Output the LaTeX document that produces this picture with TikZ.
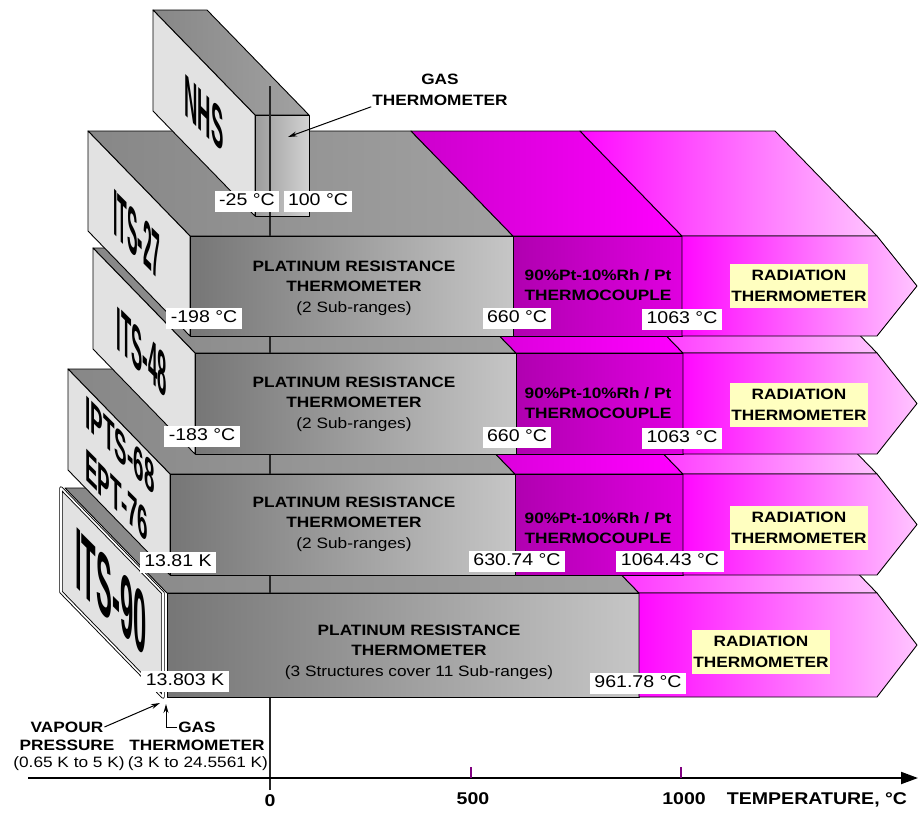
\documentclass[tikz,border=0pt]{standalone}
\usepackage{fontspec}
\setmainfont{Liberation Sans}[FakeStretch=1.15]
\newfontfamily\facefont{Liberation Sans}
\usetikzlibrary{arrows.meta}
\definecolor{prtDark}{HTML}{767676}
\definecolor{prtLight}{HTML}{C6C6C6}
\definecolor{prtTopDark}{HTML}{878787}
\definecolor{prtTopLight}{HTML}{A2A2A2}
\definecolor{tcDark}{HTML}{B000B0}
\definecolor{tcLight}{HTML}{E000E0}
\definecolor{tcTop}{HTML}{CC00CC}
\definecolor{radDark}{HTML}{FF08FF}
\definecolor{radLight}{HTML}{FFC4FF}
\definecolor{nhsDark}{HTML}{9C9C9C}
\definecolor{nhsLight}{HTML}{D2D2D2}
\definecolor{sideGray}{HTML}{E2E2E2}
\definecolor{noteYellow}{HTML}{FFFFC0}
\definecolor{tickPurple}{HTML}{800080}
% depth of a block (back and up)
\def\dx{102}
\def\dy{105}
% right end and tip of the arrows
\def\xr{877}
\def\xt{917}
% top faces: #1 front y, #2 left x, #3 PRT/TC x, #4 TC/radiation x
\def\drawTops#1#2#3#4{
\draw[prttop] (#2,#1) -- (#3,#1) -- ++(-\dx,-\dy) -- (#2-\dx,#1-\dy) -- cycle;
\draw[tctop] (#3,#1) -- (#4,#1) -- ++(-\dx,-\dy) -- (#3-\dx,#1-\dy) -- cycle;
\draw[radtop] (#4,#1) -- (\xr,#1) -- ++(-\dx,-\dy) -- (#4-\dx,#1-\dy) -- cycle;
}
% face that carries the scale name: #1 top y, #2 bottom y, #3 x
\def\drawSide#1#2#3{
\draw[sideface] (#3,#1) -- ++(-\dx,-\dy) -- ++(0,#2-#1) -- (#3,#2) -- cycle;
}
% front faces: #1 top y, #2 bottom y, #3 left x, #4 PRT/TC x, #5 TC/radiation x
\def\drawFronts#1#2#3#4#5{
\draw[prtfront] (#3,#1) rectangle (#4,#2);
\draw[tcfront] (#4,#1) rectangle (#5,#2);
\draw[radfront] (#5,#1) -- (\xr,#1) -- (\xt,{(#1+#2)/2}) -- (\xr,#2) -- (#5,#2) -- cycle;
}
\tikzset{
  outline/.style={draw=black, line width=0.9pt, line join=round},
  prttop/.style={outline, left color=prtTopDark, right color=prtTopLight},
  tctop/.style={outline, left color=tcTop, right color=magenta},
  radtop/.style={outline, left color=radDark, right color=radLight},
  prtfront/.style={outline, left color=prtDark, right color=prtLight},
  tcfront/.style={outline, left color=tcDark, right color=tcLight},
  radfront/.style={outline, left color=radDark, right color=radLight},
  nhsfront/.style={outline, left color=nhsDark, right color=nhsLight},
  sideface/.style={outline, fill=sideGray},
  sidetext/.style 2 args={inner sep=0pt, font=\facefont\fontsize{#1}{#1}\selectfont\bfseries, cm={#2,-#2,0,1,(0,0)}},
  zeroline/.style={draw=black!85, line width=1.4pt},
  head/.style={align=center, inner sep=1pt, font=\fontsize{15}{20.5}\selectfont},
  boldhead/.style={head, font=\fontsize{15}{20.5}\selectfont\bfseries},
  radbox/.style={boldhead, fill=noteYellow, inner xsep=1.5pt, inner ysep=6.5pt},
  val/.style={fill=white, inner xsep=4.5pt, inner ysep=2.5pt, text height=12.5pt, text depth=3.5pt, font=\fontsize{17}{20}\selectfont},
  arrowline/.style={line width=1pt, -{Stealth[length=9pt,width=5pt]}},
  axlabel/.style={inner sep=1pt, font=\fontsize{17}{20}\selectfont\bfseries},
}
\begin{document}
\begin{tikzpicture}[x=1pt, y=-1pt]
\useasboundingbox (0,0) rectangle (919,812);
% top faces, lowest block first
\draw[prttop] (167,593) -- (639,593) -- ++(-\dx,-\dy) -- (167-\dx,593-\dy) -- cycle;
\draw[radtop] (639,593) -- (\xr,593) -- ++(-\dx,-\dy) -- (639-\dx,593-\dy) -- cycle;
\drawTops{474}{170}{515}{683}
\drawTops{353}{195}{516}{683}
\drawTops{236}{190}{513}{682}
\draw[prttop] (255,115) -- (309,115) -- ++(-\dx,-\dy) -- (255-\dx,115-\dy) -- cycle;

% zero of the scale
\coordinate (zeroTop) at (270,86);
\coordinate (zeroBot) at (270,790);
\draw[zeroline] (zeroTop) -- (zeroBot);

% name faces and fronts
\draw[sideface, double=white, double distance=1.6pt] (163,593) -- ++(-\dx,-\dy) -- ++(0,104) -- (163,697) -- cycle;
\draw[prtfront] (167,593) rectangle (639,697);
\draw[radfront] (639,593) -- (\xr,593) -- (\xt,645) -- (\xr,697) -- (639,697) -- cycle;
\drawSide{474}{575}{170}
\drawFronts{474}{575}{170}{515}{683}
\drawSide{353}{454}{195}
\drawFronts{353}{454}{195}{516}{683}
\drawSide{236}{336}{190}
\drawFronts{236}{336}{190}{513}{682}
\drawSide{115}{216}{255}
\draw[nhsfront] (255,115) rectangle (309,216);
\draw[zeroline] (270,115) -- (270,216);

% scale names
\node[sidetext={60}{0.31}] (nhs) at (204,113) {NHS};
\node[sidetext={66}{0.24}] (its27) at (137,235) {ITS-27};
\node[sidetext={62}{0.27}] (its48) at (142,352) {ITS-48};
\node[sidetext={46}{0.41}, align=left] (ipts68) at (120,472) {IPTS-68\\[7pt]EPT-76};
\node[sidetext={88}{0.27}] (its90) at (111,592) {ITS-90};

% thermometers
\node[head] (prt27) at (354,288) {\textbf{PLATINUM RESISTANCE}\\\textbf{THERMOMETER}\\(2 Sub-ranges)};
\node[head] (prt48) at (354,404) {\textbf{PLATINUM RESISTANCE}\\\textbf{THERMOMETER}\\(2 Sub-ranges)};
\node[head] (prt68) at (354,524) {\textbf{PLATINUM RESISTANCE}\\\textbf{THERMOMETER}\\(2 Sub-ranges)};
\node[head] (prt90) at (419,652) {\textbf{PLATINUM RESISTANCE}\\\textbf{THERMOMETER}\\(3 Structures cover 11 Sub-ranges)};
\node[boldhead] (tc27) at (598,285) {90\%Pt-10\%Rh / Pt\\THERMOCOUPLE};
\node[boldhead] (tc48) at (598,403) {90\%Pt-10\%Rh / Pt\\THERMOCOUPLE};
\node[boldhead] (tc68) at (598,528) {90\%Pt-10\%Rh / Pt\\THERMOCOUPLE};
\node[radbox] (rad27) at (799,286) {RADIATION\\THERMOMETER};
\node[radbox] (rad48) at (799,405) {RADIATION\\THERMOMETER};
\node[radbox] (rad68) at (799,528) {RADIATION\\THERMOMETER};
\node[radbox] (rad90) at (761,652) {RADIATION\\THERMOMETER};

% range limits
\node[val] (nhsLow) at (247,201) {-25 °C};
\node[val] (nhsHigh) at (318,201) {100 °C};
\node[val] (low27) at (204,318) {-198 °C};
\node[val] (mid27) at (517,318) {660 °C};
\node[val] (high27) at (682,319) {1063 °C};
\node[val] (low48) at (202,436) {-183 °C};
\node[val] (mid48) at (517,437) {660 °C};
\node[val] (high48) at (682,438) {1063 °C};
\node[val] (low68) at (178,562) {13.81 K};
\node[val] (mid68) at (517,561) {630.74 °C};
\node[val] (high68) at (670,561) {1064.43 °C};
\node[val] (low90) at (185,681) {13.803 K};
\node[val] (mid90) at (638,683) {961.78 °C};

% gas thermometer of the NHS
\node[boldhead] (gasTop) at (440,90) {GAS\\THERMOMETER};
\coordinate (gasTopTip) at (288,137);
\draw[arrowline] (gasTop.south west) -- (gasTopTip);

% low end of ITS-90
\node[boldhead] (vapour) at (67,727) {VAPOUR};
\node[boldhead] (pressure) at (67,745) {PRESSURE};
\node[head] (vapourRange) at (69,764) {(0.65 K to 5 K)};
\node[boldhead] (gasLow) at (197,727) {GAS};
\node[boldhead] (gasLowName) at (197,745) {THERMOMETER};
\node[head] (gasRange) at (198,764) {(3 K to 24.5561 K)};
\coordinate (vapourTip) at (160,703);
\coordinate (gasLowTip) at (166,704);
\draw[arrowline] (vapour.east) -- (vapourTip);
\draw[arrowline] (gasLow.west) -| (gasLowTip);

% temperature axis
\coordinate (axisStart) at (28,778);
\coordinate (axisEnd) at (918,778);
\draw[line width=2pt, -{Triangle[length=17pt,width=12pt]}] (axisStart) -- (axisEnd);
\foreach \t in {471,681}
  \draw[tickPurple, line width=1.5pt] (\t,767) -- (\t,778);
\node[axlabel] (t0) at (270,801) {0};
\node[axlabel] (t500) at (473,799) {500};
\node[axlabel] (t1000) at (684,799) {1000};
\node[axlabel] (axisName) at (817,800) {TEMPERATURE, °C};
\end{tikzpicture}
\end{document}
